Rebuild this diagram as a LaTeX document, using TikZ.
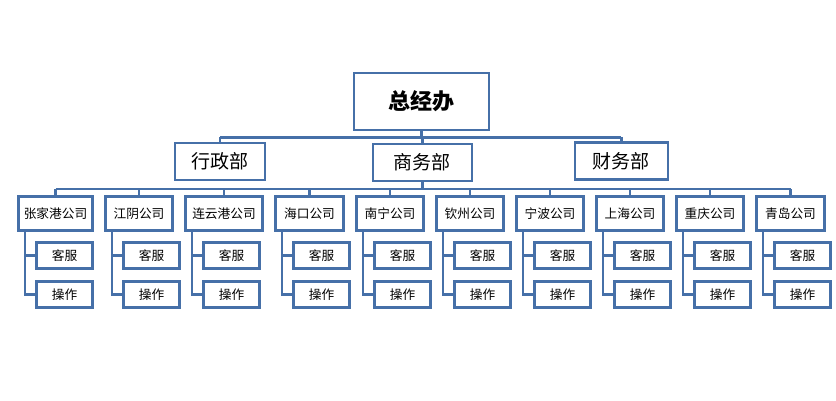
\documentclass[tikz,border=0pt]{standalone}
\usepackage{fontspec}
\usepackage{tikz}
\newfontfamily\cjk{Noto Sans CJK SC}
\definecolor{orgline}{RGB}{70,112,168}
\tikzset{
  box/.style={draw=orgline,line width=2.4pt,fill=white,inner sep=0pt,font=\cjk},
  link/.style={draw=orgline,line width=2.4pt},
  dept/.style={box,minimum height=37,font=\cjk\fontsize{19}{21}\selectfont},
  comp/.style={box,anchor=north west,minimum height=34,font=\cjk\fontsize{12.7}{15}\selectfont},
  sub/.style={box,anchor=west,minimum width=56,minimum height=26,font=\cjk\fontsize{12.7}{15}\selectfont},
}

\begin{document}
\begin{tikzpicture}[x=1pt,y=-1pt]
\useasboundingbox (0,0) rectangle (836,400);
% top level
\node[box,minimum width=135,minimum height=57,font=\cjk\bfseries\fontsize{22}{24}\selectfont] (top) at (421.5,101.5) {总经办};
\node[dept,minimum width=90] (xz) at (220,161.5) {行政部};
\node[dept,minimum width=99] (sw) at (422.3,162.3) {商务部};
\node[dept,minimum width=93] (cw) at (621.3,161) {财务部};
\coordinate (topbus) at (0,137.3);
\coordinate (midbus) at (0,188.7);
\draw[link] (top.south) -- (top.south |- topbus);
\draw[link] (xz.north |- topbus) -- (cw.north |- topbus);
\foreach \d in {xz,sw,cw}
  \draw[link] (\d.north) -- (\d.north |- topbus);
% companies
\foreach \i/\x/\w/\name in {1/17.3/74/张家港公司,2/104.3/67/江阴公司,3/184.3/77/连云港公司,
    4/274.3/68/海口公司,5/355.3/67/南宁公司,6/435.3/67/钦州公司,7/515.3/67/宁波公司,
    8/595.3/67/上海公司,9/675.3/67/重庆公司,10/755.3/68/青岛公司}{
  \node[comp,minimum width=\w] (c\i) at (\x,195.3) {\name};
  \draw[link] (c\i.north) -- (c\i.north |- midbus);
  \node[sub] (k\i) at (\x+18,255.5) {客服};
  \node[sub] (o\i) at (\x+18,294.5) {操作};
  \coordinate (v\i) at (\x+7.5,229.3);
  \draw[link] (v\i) |- (o\i.west);
  \draw[link] (k\i.west) -- (k\i.west -| v\i);
}
\draw[link] (sw.south) -- (sw.south |- midbus);
\draw[link] (c1.north |- midbus) -- (c10.north |- midbus);
\end{tikzpicture}
\end{document}
